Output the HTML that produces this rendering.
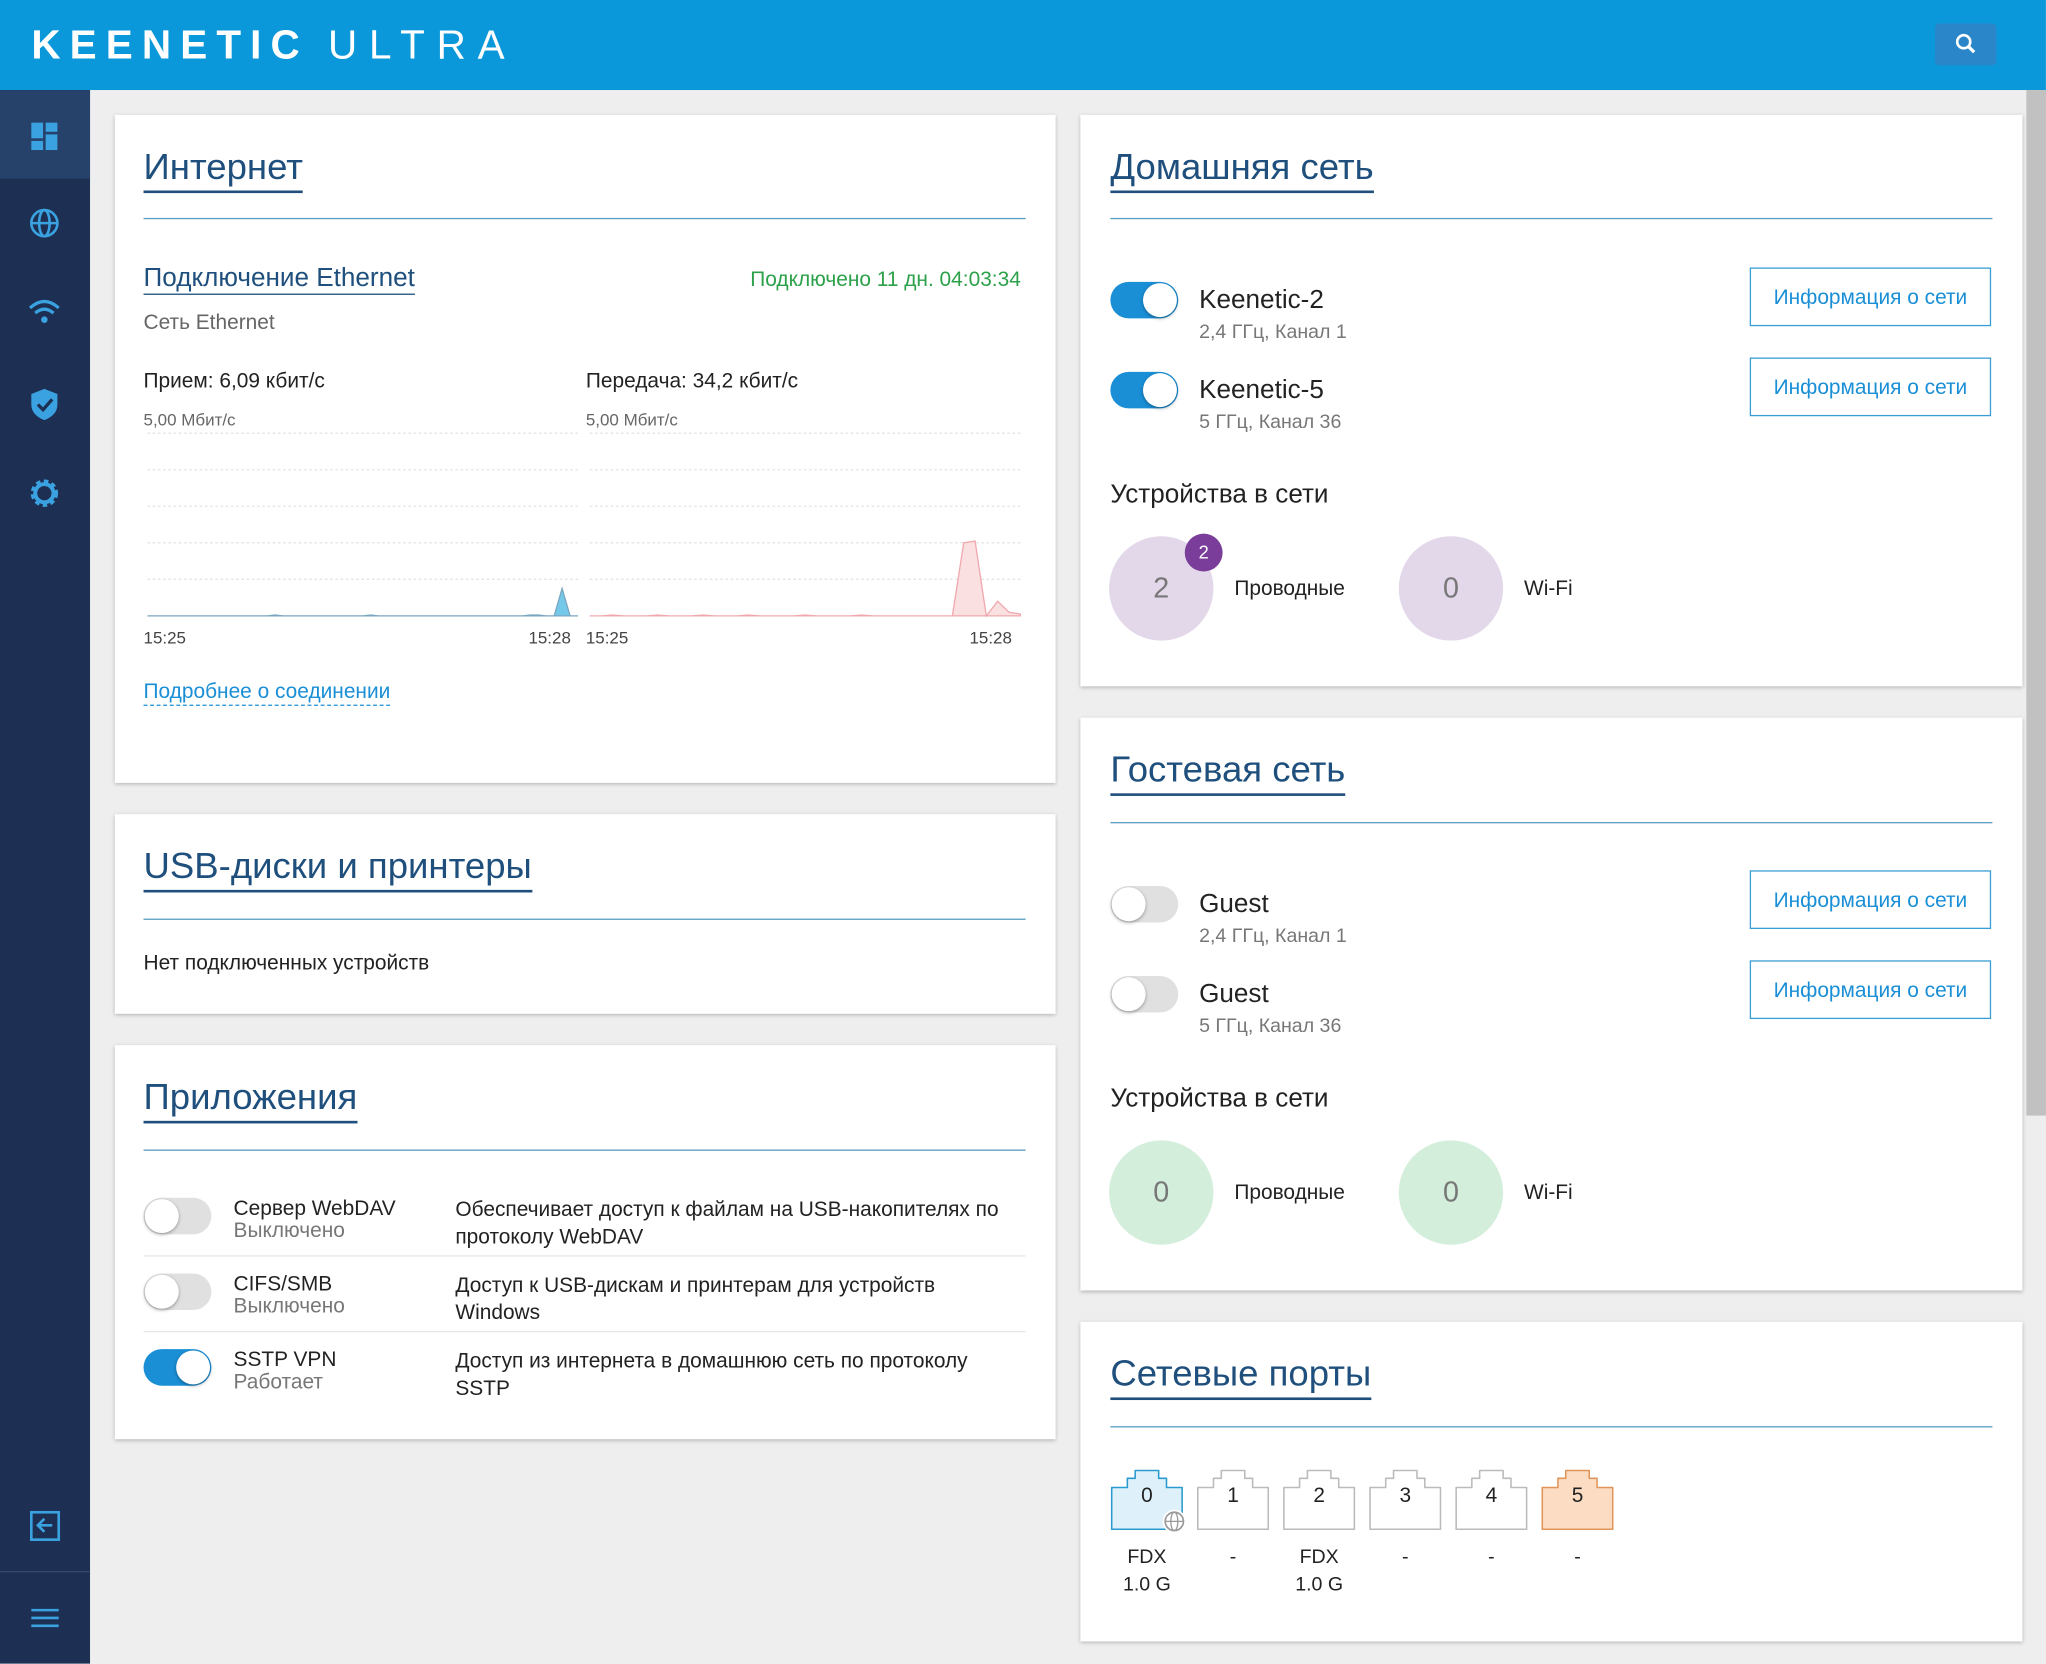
<!DOCTYPE html>
<html><head><meta charset="utf-8">
<style>
html,body{margin:0;padding:0;width:2046px;height:1664px;overflow:hidden;background:#eeeeee;font-family:"Liberation Sans",sans-serif;}
#wrap{position:absolute;left:0;top:0;width:1568px;height:1275px;transform:scale(1.3048);transform-origin:0 0;}
.a{position:absolute;}
.card{position:absolute;background:#fff;box-shadow:0 1px 3px rgba(0,0,0,.25);}
.title{position:absolute;font-size:28px;color:#1f4f7c;white-space:nowrap;border-bottom:2px solid #1f4f7c;padding-bottom:2px;line-height:32px}
.hr{position:absolute;height:1px;background:#5a9cc0;}
.t{position:absolute;white-space:nowrap;color:#222;}
.tg{position:absolute;width:52px;height:28px;border-radius:14px;}
.tg.on{background:#1a8fd6;}
.tg.off{background:#e0e0e0;}
.tg .k{position:absolute;top:1px;width:26px;height:26px;border-radius:50%;background:#fff;box-shadow:0 1px 3px rgba(0,0,0,.35);}
.tg.on .k{left:25px}.tg.off .k{left:1px}
.btn{position:absolute;width:185px;height:45px;border:1px solid #3a9ed6;color:#1a8fd6;font-size:16px;line-height:45px;text-align:center;box-sizing:border-box;}
.circ{position:absolute;width:80px;height:80px;border-radius:50%;text-align:center;line-height:80px;font-size:22px;color:#777;}
</style></head><body>
<div id="wrap">
<div class="a" style="left:0;top:0;width:1568px;height:69px;background:#0b98da;"></div>
<div class="t" style="left:24px;top:17px;font-size:31px;color:#fff;letter-spacing:6px;"><b style="letter-spacing:7px">KEENETIC</b>&nbsp;<span style="font-weight:300;letter-spacing:9px">ULTRA</span></div>
<div class="a" style="left:1483px;top:18px;width:47px;height:32px;background:#2b86c9;border-radius:3px;">
<svg width="47" height="32"><circle cx="22" cy="14" r="5" fill="none" stroke="#fff" stroke-width="2"/><line x1="26" y1="18" x2="30" y2="22" stroke="#fff" stroke-width="2.5"/></svg></div>
<div class="a" style="left:0;top:69px;width:69px;height:1206px;background:#1d3053;"></div>
<div class="a" style="left:0;top:69px;width:69px;height:68px;background:#26416a;">
<svg width="69" height="68"><rect x="24" y="25" width="9" height="12" fill="#3aa2e0"/><rect x="35" y="25" width="9" height="7" fill="#3aa2e0"/><rect x="24" y="39" width="9" height="7" fill="#3aa2e0"/><rect x="35" y="34" width="9" height="12" fill="#3aa2e0"/></svg></div>
<svg class="a" style="left:0;top:137px" width="69" height="68"><circle cx="34" cy="34" r="10" fill="none" stroke="#3aa2e0" stroke-width="2"/><ellipse cx="34" cy="34" rx="4" ry="10" fill="none" stroke="#3aa2e0" stroke-width="2"/><line x1="24" y1="34" x2="44" y2="34" stroke="#3aa2e0" stroke-width="2"/></svg>
<svg class="a" style="left:0;top:206px" width="69" height="68"><path d="M23 30 Q34 20 45 30" fill="none" stroke="#3aa2e0" stroke-width="2.5"/><path d="M27 34 Q34 28 41 34" fill="none" stroke="#3aa2e0" stroke-width="2.5"/><circle cx="34" cy="39" r="2.5" fill="#3aa2e0"/></svg>
<svg class="a" style="left:0;top:276px" width="69" height="68"><path d="M34 22 L44 26 L44 34 Q44 42 34 46 Q24 42 24 34 L24 26 Z" fill="#3aa2e0"/><path d="M29 34 L33 38 L40 30" fill="none" stroke="#1d3053" stroke-width="2.5"/></svg>
<svg class="a" style="left:0;top:344px" width="69" height="68"><circle cx="34" cy="34" r="8" fill="none" stroke="#3aa2e0" stroke-width="5" stroke-dasharray="3 2.3"/><circle cx="34" cy="34" r="7" fill="none" stroke="#3aa2e0" stroke-width="3"/></svg>
<svg class="a" style="left:0;top:1135px" width="69" height="68"><rect x="24" y="24" width="21" height="21" fill="none" stroke="#3aa2e0" stroke-width="2"/><path d="M40 34 H30 M34 29 L29 34 L34 39" fill="none" stroke="#3aa2e0" stroke-width="2"/></svg>
<div class="a" style="left:0;top:1204px;width:69px;height:1px;background:#34486b"></div>
<svg class="a" style="left:0;top:1206px" width="69" height="68"><path d="M24 28 H45 M24 34 H45 M24 40 H45" stroke="#3aa2e0" stroke-width="2"/></svg>
<div class="a" style="left:1553px;top:69px;width:15px;height:786px;background:#c1c1c1;"></div>

<!-- Internet card -->
<div class="card" style="left:88px;top:88px;width:721px;height:512px;"></div>
<div class="title" style="left:110px;top:112px;">Интернет</div>
<div class="hr" style="left:110px;top:167px;width:676px"></div>
<div class="t" style="left:110px;top:202px;font-size:20px;color:#1f4f7c;border-bottom:1px solid #1f4f7c;">Подключение Ethernet</div>
<div class="t" style="left:575px;top:206px;font-size:16px;color:#2ca14a;">Подключено 11 дн. 04:03:34</div>
<div class="t" style="left:110px;top:239px;font-size:16px;color:#666;">Сеть Ethernet</div>
<div class="t" style="left:110px;top:284px;font-size:16px;">Прием: 6,09 кбит/с</div>
<div class="t" style="left:449px;top:284px;font-size:16px;">Передача: 34,2 кбит/с</div>
<div class="t" style="left:110px;top:314px;font-size:13px;color:#666;">5,00 Мбит/с</div>
<div class="t" style="left:449px;top:314px;font-size:13px;color:#666;">5,00 Мбит/с</div>
<svg class="a" id="charts" style="left:0;top:0" width="820" height="500"></svg>
<div class="t" style="left:110px;top:481px;font-size:13px;color:#444;">15:25</div>
<div class="t" style="left:405px;top:481px;font-size:13px;color:#444;">15:28</div>
<div class="t" style="left:449px;top:481px;font-size:13px;color:#444;">15:25</div>
<div class="t" style="left:743px;top:481px;font-size:13px;color:#444;">15:28</div>
<div class="t" style="left:110px;top:522px;font-size:16px;color:#1a8fd6;border-bottom:1px dashed #1a8fd6;">Подробнее о соединении</div>

<!-- USB card -->
<div class="card" style="left:88px;top:624px;width:721px;height:153px;"></div>
<div class="title" style="left:110px;top:648px;">USB-диски и принтеры</div>
<div class="hr" style="left:110px;top:704px;width:676px"></div>
<div class="t" style="left:110px;top:730px;font-size:16px;">Нет подключенных устройств</div>

<!-- Apps card -->
<div class="card" style="left:88px;top:801px;width:721px;height:302px;"></div>
<div class="title" style="left:110px;top:825px;">Приложения</div>
<div class="hr" style="left:110px;top:881px;width:676px"></div>
<div class="tg off" style="left:110px;top:918px"><div class="k"></div></div>
<div class="t" style="left:179px;top:918px;font-size:16px;line-height:17px">Сервер WebDAV<br><span style="color:#777">Выключено</span></div>
<div class="t" style="left:349px;top:917px;font-size:16px;line-height:21px">Обеспечивает доступ к файлам на USB-накопителях по<br>протоколу WebDAV</div>
<div class="hr" style="left:110px;top:962px;width:676px;background:#e6e6e6"></div>
<div class="tg off" style="left:110px;top:976px"><div class="k"></div></div>
<div class="t" style="left:179px;top:976px;font-size:16px;line-height:17px">CIFS/SMB<br><span style="color:#777">Выключено</span></div>
<div class="t" style="left:349px;top:975px;font-size:16px;line-height:21px">Доступ к USB-дискам и принтерам для устройств<br>Windows</div>
<div class="hr" style="left:110px;top:1020px;width:676px;background:#e6e6e6"></div>
<div class="tg on" style="left:110px;top:1034px"><div class="k"></div></div>
<div class="t" style="left:179px;top:1034px;font-size:16px;line-height:17px">SSTP VPN<br><span style="color:#777">Работает</span></div>
<div class="t" style="left:349px;top:1033px;font-size:16px;line-height:21px">Доступ из интернета в домашнюю сеть по протоколу<br>SSTP</div>

<!-- Home network -->
<div class="card" style="left:828px;top:88px;width:722px;height:438px;"></div>
<div class="title" style="left:851px;top:112px;">Домашняя сеть</div>
<div class="hr" style="left:851px;top:167px;width:676px"></div>
<div class="tg on" style="left:851px;top:216px"><div class="k"></div></div>
<div class="t" style="left:919px;top:219px;font-size:20px">Keenetic-2</div>
<div class="t" style="left:919px;top:246px;font-size:15px;color:#777">2,4 ГГц, Канал 1</div>
<div class="btn" style="left:1341px;top:205px">Информация о сети</div>
<div class="tg on" style="left:851px;top:285px"><div class="k"></div></div>
<div class="t" style="left:919px;top:288px;font-size:20px">Keenetic-5</div>
<div class="t" style="left:919px;top:315px;font-size:15px;color:#777">5 ГГц, Канал 36</div>
<div class="btn" style="left:1341px;top:274px">Информация о сети</div>
<div class="t" style="left:851px;top:368px;font-size:20px">Устройства в сети</div>
<div class="circ" style="left:850px;top:411px;background:#e3d8ea">2</div>
<div class="a" style="left:908px;top:409px;width:29px;height:29px;border-radius:50%;background:#7a3e9a;color:#fff;font-size:14px;text-align:center;line-height:29px">2</div>
<div class="t" style="left:946px;top:443px;font-size:16px">Проводные</div>
<div class="circ" style="left:1072px;top:411px;background:#e3d8ea">0</div>
<div class="t" style="left:1168px;top:443px;font-size:16px">Wi-Fi</div>

<!-- Guest network -->
<div class="card" style="left:828px;top:550px;width:722px;height:439px;"></div>
<div class="title" style="left:851px;top:574px;">Гостевая сеть</div>
<div class="hr" style="left:851px;top:630px;width:676px"></div>
<div class="tg off" style="left:851px;top:679px"><div class="k"></div></div>
<div class="t" style="left:919px;top:682px;font-size:20px">Guest</div>
<div class="t" style="left:919px;top:709px;font-size:15px;color:#777">2,4 ГГц, Канал 1</div>
<div class="btn" style="left:1341px;top:667px">Информация о сети</div>
<div class="tg off" style="left:851px;top:748px"><div class="k"></div></div>
<div class="t" style="left:919px;top:751px;font-size:20px">Guest</div>
<div class="t" style="left:919px;top:778px;font-size:15px;color:#777">5 ГГц, Канал 36</div>
<div class="btn" style="left:1341px;top:736px">Информация о сети</div>
<div class="t" style="left:851px;top:831px;font-size:20px">Устройства в сети</div>
<div class="circ" style="left:850px;top:874px;background:#d4eedc">0</div>
<div class="t" style="left:946px;top:906px;font-size:16px">Проводные</div>
<div class="circ" style="left:1072px;top:874px;background:#d4eedc">0</div>
<div class="t" style="left:1168px;top:906px;font-size:16px">Wi-Fi</div>

<!-- Ports -->
<div class="card" style="left:828px;top:1013px;width:722px;height:245px;"></div>
<div class="title" style="left:851px;top:1037px;">Сетевые порты</div>
<div class="hr" style="left:851px;top:1093px;width:676px"></div>
<div id="ports"></div>
</div>
<script>
// traffic data (Mbit/s)
const rxValues=[0,0,0,0,0,0,0,0,0,0,0,0,0,0,0,0,0.02,0,0,0,0,0,0,0,0,0,0,0,0.02,0,0,0,0,0,0,0,0,0,0,0,0,0,0,0,0,0,0,0,0.02,0.02,0,0,0.75,0,0];
const txValues=[0,0,0.02,0,0,0,0.02,0,0,0,0.02,0,0,0,0.02,0,0,0,0,0.02,0,0,0,0,0.02,0,0,0,0,0,0,0,0,2.0,2.05,0,0.4,0.1,0.05];
const yMax=5;
const ns="http://www.w3.org/2000/svg";
const svg=document.getElementById('charts');
function drawChart(vals,x0,x1,stroke,fill,name){
  const top=332,base=472;
  [332,360,388,416,444].forEach(function(g){
    const l=document.createElementNS(ns,'line');
    l.setAttribute('x1',x0);l.setAttribute('x2',x1);l.setAttribute('y1',g);l.setAttribute('y2',g);
    l.setAttribute('stroke','#e4e4e4');l.setAttribute('stroke-dasharray','2 2');
    
    
    svg.appendChild(l);
  });
  const xs=function(i){return x0+(x1-x0)*i/(vals.length-1);};
  const ys=function(v){return base-(base-top)*v/yMax;};
  let d='M'+x0+' '+base;
  vals.forEach(function(v,i){d+=' L'+xs(i).toFixed(1)+' '+ys(v).toFixed(1);});
  d+=' L'+x1+' '+base+' Z';
  const p=document.createElementNS(ns,'path');
  p.setAttribute('d',d);p.setAttribute('fill',fill);p.setAttribute('stroke',stroke);p.setAttribute('stroke-width','1');
  
  
  svg.appendChild(p);
}
drawChart(rxValues,113,443,'#7aa6bf','#74c9ea','rx-chart');
drawChart(txValues,452,782,'#f0a8ad','#fbe0e2','tx-chart');

const portLabels=['0','1','2','3','4','5'];
const portStatus=['FDX<br>1.0 G','-','FDX<br>1.0 G','-','-','-'];
const portEl=document.getElementById('ports');
portLabels.forEach(function(lbl,i){
  const x=851+i*66;
  let stroke='#bbb',fill='#fff';
  if(i===0){stroke='#2a9bd0';fill='#def0fa';}
  if(i===5){stroke='#e0965a';fill='#fcdcc2';}
  const d=document.createElement('div');
  d.className='a';
  
  
  d.style.left=x+'px';d.style.top='1126px';
  let html='<svg width="58" height="50"><path d="M1 14 H13 V7 H19 V1 H37 V7 H43 V14 H55 V46 H1 Z" fill="'+fill+'" stroke="'+stroke+'" stroke-width="1.2" stroke-linejoin="round"/>'+
    '<text x="28" y="25" font-size="16" text-anchor="middle" fill="#222" font-family="Liberation Sans">'+lbl+'</text>';
  if(i===0) html+='<circle cx="49" cy="40" r="9" fill="#fff"/><circle cx="49" cy="40" r="7" fill="none" stroke="#999" stroke-width="1.3"/><ellipse cx="49" cy="40" rx="2.7" ry="7" fill="none" stroke="#999"/><line x1="42" y1="40" x2="56" y2="40" stroke="#999"/>';
  html+='</svg>';
  d.innerHTML=html;
  portEl.appendChild(d);
  const s=document.createElement('div');
  s.className='t';
  
  
  s.style.left=(x-10)+'px';s.style.top='1183px';s.style.width='76px';s.style.textAlign='center';
  s.style.fontSize='15px';s.style.lineHeight='21px';
  s.innerHTML=portStatus[i];
  portEl.appendChild(s);
});
</script>
</body></html>
